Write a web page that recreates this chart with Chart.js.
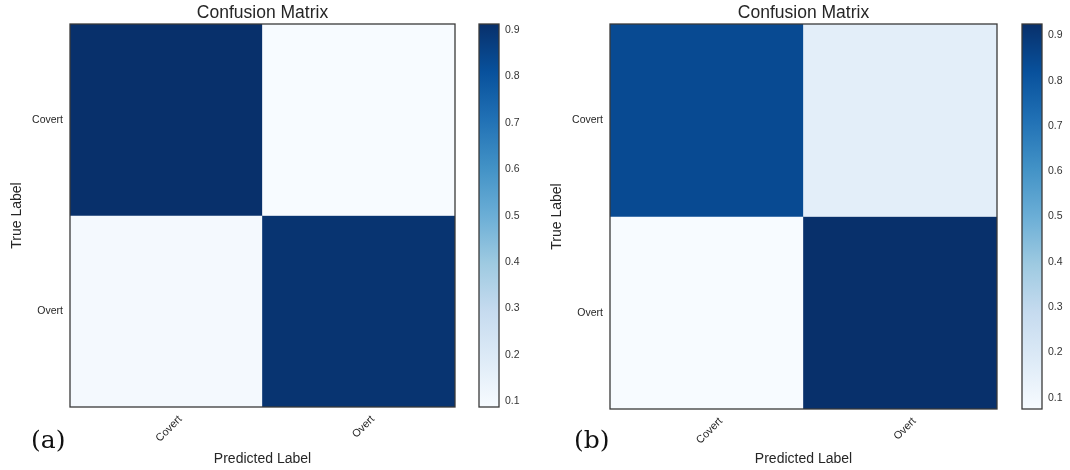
<!DOCTYPE html>
<html>
<head>
<meta charset="utf-8">
<script src="https://cdn.jsdelivr.net/npm/chart.js@4.4.1/dist/chart.umd.min.js"></script>
<style>
  body { margin: 0; background: #fff; }
  #wrap { position: relative; width: 1070px; height: 470px; overflow: hidden; }
  canvas { position: absolute; }
  .panel { position: absolute; font-family: "DejaVu Serif", "Liberation Serif", serif; font-size: 25px; color: #111; }
</style>
</head>
<body>
<div id="wrap">
  <canvas id="heatA" style="left:0;top:0;width:470px;height:470px" width="470" height="470"></canvas>
  <canvas id="barA" style="left:470px;top:0;width:60px;height:470px" width="60" height="470"></canvas>
  <canvas id="heatB" style="left:540px;top:0;width:470px;height:470px" width="470" height="470"></canvas>
  <canvas id="barB" style="left:1013px;top:0;width:57px;height:470px" width="57" height="470"></canvas>
  <div class="panel" style="left:31px;top:425px">(a)</div>
  <div class="panel" style="left:574px;top:425px">(b)</div>
</div>
<script>
// labels
const predLabels = ['Covert', 'Overt'];
const trueLabels = ['Covert', 'Overt'];
const colorbarTicks = [0.1, 0.2, 0.3, 0.4, 0.5, 0.6, 0.7, 0.8, 0.9];

// normalised confusion matrices, one array per true-label row
const matrixA_covert = [0.913, 0.088];
const matrixA_overt = [0.10, 0.90];
const matrixB_covert = [0.84, 0.16];
const matrixB_overt = [0.075, 0.925];

// matplotlib "Blues"
const blues = ['#f7fbff', '#deebf7', '#c6dbef', '#9ecae1', '#6baed6', '#4292c6', '#2171b5', '#08519c', '#08306b'];

const FONT = '"Liberation Sans", Arial, sans-serif';
const TEXT = '#262626';
const FRAME = '#3a3a3a';

Chart.defaults.font.family = FONT;
Chart.defaults.color = TEXT;
Chart.defaults.animation = false;

function hexToRgb(h) {
    return [parseInt(h.slice(1, 3), 16), parseInt(h.slice(3, 5), 16), parseInt(h.slice(5, 7), 16)];
}

function bluesColor(t) {
    t = Math.max(0, Math.min(1, t));
    const pos = t * (blues.length - 1);
    const i = Math.min(Math.floor(pos), blues.length - 2);
    const f = pos - i;
    const a = hexToRgb(blues[i]), b = hexToRgb(blues[i + 1]);
    const c = a.map((v, k) => Math.round(v + (b[k] - v) * f));
    return `rgb(${c[0]}, ${c[1]}, ${c[2]})`;
}

// frame around the plot area
const framePlugin = {
    id: 'frame',
    afterDraw(chart) {
        const a = chart.chartArea;
        const ctx = chart.ctx;
        ctx.save();
        ctx.strokeStyle = FRAME;
        ctx.lineWidth = 1.3;
        ctx.strokeRect(a.left, a.top, a.right - a.left, a.bottom - a.top);
        ctx.restore();
    }
};

function makeHeatmap(id, rows, pad) {
    const all = rows.flat();
    const vmin = Math.min(...all), vmax = Math.max(...all);
    const datasets = rows.map((row, r) => ({
        label: trueLabels[r],
        data: row.map(() => 1),
        backgroundColor: row.map(v => bluesColor((v - vmin) / (vmax - vmin))),
        borderWidth: 0,
        barPercentage: 1,
        categoryPercentage: 1
    }));
    return new Chart(document.getElementById(id), {
        type: 'bar',
        data: { labels: predLabels, datasets: datasets },
        options: {
            responsive: false,
            layout: { padding: pad },
            plugins: {
                legend: { display: false },
                tooltip: { enabled: false },
                title: {
                    display: true,
                    text: 'Confusion Matrix',
                    fullSize: false,
                    color: TEXT,
                    font: { size: 17.5, weight: 'normal' },
                    padding: { top: pad.titleTop, bottom: 0 }
                }
            },
            scales: {
                x: {
                    stacked: true,
                    grid: { display: false, drawTicks: false },
                    border: { display: false },
                    ticks: {
                        maxRotation: 45, minRotation: 45,
                        padding: 6,
                        labelOffset: 14,
                        font: { size: 10.8 },
                        color: TEXT
                    },
                    title: {
                        display: true,
                        text: 'Predicted Label',
                        color: TEXT,
                        font: { size: 14 },
                        padding: { top: 0, bottom: 2 }
                    },
                    afterFit(s) { s.height = pad.xh; }
                },
                y: {
                    stacked: true,
                    min: 0,
                    max: trueLabels.length,
                    reverse: true,
                    grid: { display: false, drawTicks: false },
                    border: { display: false },
                    afterBuildTicks(s) { s.ticks = trueLabels.map((_, i) => ({ value: i + 0.5 })); },
                    ticks: {
                        padding: 7,
                        font: { size: 10.5 },
                        color: TEXT,
                        callback: (v, i) => trueLabels[i]
                    },
                    title: {
                        display: true,
                        text: 'True Label',
                        color: TEXT,
                        font: { size: 14 },
                        padding: { top: 9, bottom: 0 }
                    },
                    afterFit(s) { s.width = pad.yw; }
                }
            }
        },
        plugins: [framePlugin]
    });
}

function makeColorbar(id, rows, pad) {
    const all = rows.flat();
    const vmin = Math.min(...all), vmax = Math.max(...all);
    return new Chart(document.getElementById(id), {
        type: 'bar',
        data: {
            labels: [''],
            datasets: [{
                data: [[vmin, vmax]],
                borderWidth: 0,
                barPercentage: 1,
                categoryPercentage: 1,
                backgroundColor(ctx) {
                    const area = ctx.chart.chartArea;
                    if (!area) return blues[4];
                    const g = ctx.chart.ctx.createLinearGradient(0, area.bottom, 0, area.top);
                    blues.forEach((c, i) => g.addColorStop(i / (blues.length - 1), c));
                    return g;
                }
            }]
        },
        options: {
            responsive: false,
            layout: { padding: pad },
            plugins: { legend: { display: false }, tooltip: { enabled: false } },
            scales: {
                x: { display: false },
                y: {
                    position: 'right',
                    min: vmin,
                    max: vmax,
                    grid: { display: false, drawTicks: false },
                    border: { display: false },
                    afterBuildTicks(s) { s.ticks = colorbarTicks.map(v => ({ value: v })); },
                    ticks: {
                        padding: 6,
                        font: { size: 10.5 },
                        color: '#333',
                        callback: v => v.toFixed(1)
                    },
                    afterFit(s) { s.width = pad.yw; }
                }
            }
        },
        plugins: [framePlugin]
    });
}

makeHeatmap('heatA', [matrixA_covert, matrixA_overt],
    { left: 0, right: 15, top: 0, bottom: 0, titleTop: 3, xh: 63, yw: 70 });
makeColorbar('barA', [matrixA_covert, matrixA_overt],
    { left: 9, right: 0, top: 24, bottom: 63, yw: 31 });

makeHeatmap('heatB', [matrixB_covert, matrixB_overt],
    { left: 0, right: 13, top: 0, bottom: 0, titleTop: 3, xh: 61, yw: 70 });
makeColorbar('barB', [matrixB_covert, matrixB_overt],
    { left: 9, right: 0, top: 24, bottom: 61, yw: 28 });
</script>
</body>
</html>
